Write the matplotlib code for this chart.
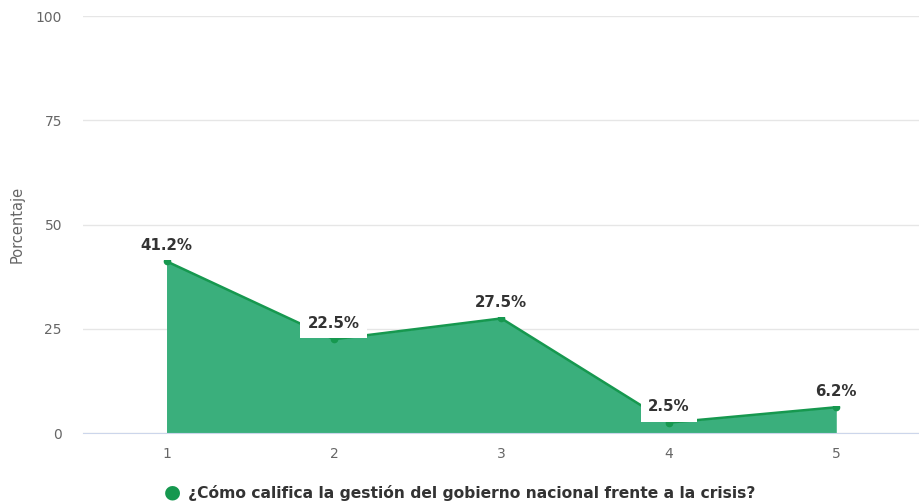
import numpy as np
import matplotlib.pyplot as plt

plt.rcParams['font.family'] = ['DejaVu Sans']

categorias = [1, 2, 3, 4, 5]
valores = [41.2, 22.5, 27.5, 2.5, 6.2]
etiquetas = ['41.2%', '22.5%', '27.5%', '2.5%', '6.2%']
yticks = [0, 25, 50, 75, 100]
serie = '¿Cómo califica la gestión del gobierno nacional frente a la crisis?'

fig = plt.figure(figsize=(9.2, 5.03), dpi=100)
ax = fig.add_axes([0.09, 0.139, 0.91, 0.829])

ax.fill_between(categorias, valores, 0, color='#3aaf7c', lw=0, zorder=2)
ax.plot(categorias, valores, color='#16984f', lw=1.8, marker='o', ms=4.5, zorder=3)

for x, v, t in zip(categorias, valores, etiquetas):
    ax.annotate(t, (x, v), xytext=(0, 11.5), textcoords='offset points',
                ha='center', va='center', fontsize=10.8, fontweight='bold', color='#333333',
                bbox=dict(boxstyle='square,pad=0.5', fc='white', ec='none'), zorder=4)

ax.set_xlim(0.5, 5.5)
ax.set_ylim(0, 100)
ax.set_xticks(categorias)
ax.set_yticks(yticks)
ax.tick_params(length=0, labelsize=10, colors='#666666')
ax.tick_params(axis='y', pad=15)
ax.tick_params(axis='x', pad=10)
ax.grid(axis='y', color='#e6e6e6', lw=1, zorder=0)
ax.set_axisbelow(True)
for s in ['top', 'right', 'left']:
    ax.spines[s].set_visible(False)
ax.spines['bottom'].set_color('#ccd6eb')
ax.set_ylabel('Porcentaje', fontsize=10.5, color='#666666', labelpad=8)

fig.text(0.187, 0.022, '●', color='#16984f', fontsize=14, ha='center', va='center')
fig.text(0.204, 0.020, serie, color='#333333', fontsize=11.2, fontweight='bold', va='center')

fig.savefig('out.png', dpi=100)
